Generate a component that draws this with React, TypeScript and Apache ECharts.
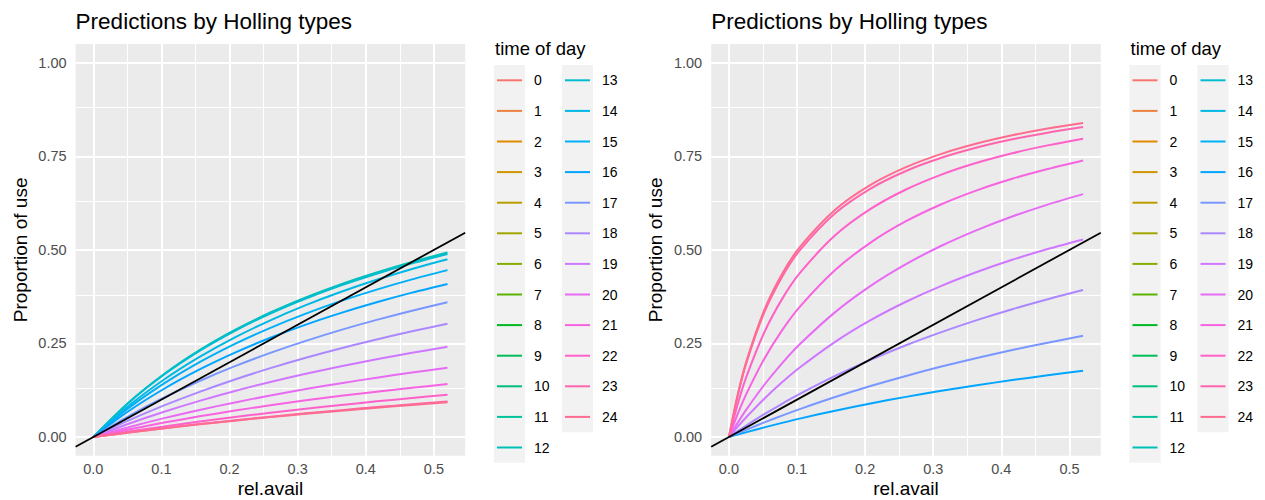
import React, { useEffect, useRef } from "react";
import * as echarts from "echarts";

// ---------- data ----------
const HOURS = Array.from({ length: 25 }, (_, i) => i);
const X_TICKS = [0, 0.1, 0.2, 0.3, 0.4, 0.5];
const X_MINOR = [0.05, 0.15, 0.25, 0.35, 0.45];
const Y_TICKS = [0, 0.25, 0.5, 0.75, 1.0];
const Y_MINOR = [0.125, 0.375, 0.625, 0.875];

// left panel: rel.avail sample points and predicted proportion of use per hour
const X_LEFT = [0, 0.052, 0.104, 0.156, 0.208, 0.26, 0.312, 0.364, 0.416, 0.468, 0.52];
const L12 = [0, 0.0925, 0.1685, 0.2322, 0.2863, 0.3328, 0.3732, 0.4087, 0.44, 0.468, 0.493];
const L13 = [0, 0.0917, 0.1671, 0.2303, 0.2839, 0.3301, 0.3701, 0.4053, 0.4364, 0.4641, 0.489];
const L14 = [0, 0.0833, 0.1537, 0.214, 0.2663, 0.3119, 0.3523, 0.3881, 0.4201, 0.4489, 0.475];
const L15 = [0, 0.0776, 0.1433, 0.1999, 0.2489, 0.2919, 0.3299, 0.3637, 0.394, 0.4213, 0.446];
const L16 = [0, 0.0696, 0.1291, 0.1806, 0.2256, 0.2653, 0.3005, 0.3319, 0.3602, 0.3858, 0.409];
const L17 = [0, 0.0562, 0.1058, 0.1499, 0.1894, 0.2249, 0.257, 0.2863, 0.313, 0.3375, 0.36];
const L18 = [0, 0.0445, 0.0846, 0.1209, 0.154, 0.1842, 0.2119, 0.2374, 0.2609, 0.2827, 0.303];
const L19 = [0, 0.0357, 0.0678, 0.0968, 0.1231, 0.1471, 0.1691, 0.1893, 0.2078, 0.2251, 0.241];
const L20 = [0, 0.0265, 0.0506, 0.0725, 0.0926, 0.1111, 0.1282, 0.144, 0.1587, 0.1723, 0.185];
const L21 = [0, 0.0203, 0.0387, 0.0554, 0.0708, 0.085, 0.0981, 0.1101, 0.1214, 0.1318, 0.1416];
const L22 = [0, 0.0148, 0.0286, 0.0415, 0.0536, 0.065, 0.0757, 0.0858, 0.0954, 0.1044, 0.113];
const L23 = [0, 0.0123, 0.0238, 0.0347, 0.0448, 0.0544, 0.0635, 0.072, 0.0801, 0.0877, 0.095];
const L24 = [0, 0.0121, 0.0233, 0.034, 0.0439, 0.0533, 0.0622, 0.0706, 0.0785, 0.0859, 0.093];

// right panel
const X_RIGHT = [0, 0.013, 0.026, 0.052, 0.078, 0.104, 0.156, 0.208, 0.26, 0.312, 0.364, 0.416, 0.468, 0.52];
const R16 = [0, 0.0067, 0.0133, 0.0259, 0.0379, 0.0493, 0.0705, 0.0898, 0.1074, 0.1236, 0.1385, 0.1522, 0.165, 0.177];
const R17 = [0, 0.0102, 0.0201, 0.0392, 0.0574, 0.0747, 0.1069, 0.1364, 0.1634, 0.1883, 0.2112, 0.2325, 0.2522, 0.2706];
const R18 = [0, 0.016, 0.0315, 0.0611, 0.089, 0.1152, 0.1633, 0.2063, 0.2452, 0.2803, 0.3123, 0.3415, 0.3683, 0.393];
const R19 = [0, 0.0279, 0.0542, 0.1026, 0.1463, 0.1858, 0.2545, 0.3123, 0.3615, 0.404, 0.441, 0.4735, 0.5023, 0.528];
const R20 = [0, 0.0387, 0.0747, 0.1398, 0.1971, 0.2479, 0.3338, 0.4039, 0.462, 0.5111, 0.553, 0.5893, 0.621, 0.649];
const R21 = [0, 0.0618, 0.1166, 0.2094, 0.2851, 0.3479, 0.4462, 0.5196, 0.5766, 0.622, 0.6591, 0.69, 0.716, 0.739];
const R22 = [0, 0.0885, 0.1627, 0.28, 0.3685, 0.4377, 0.5389, 0.6094, 0.6613, 0.7011, 0.7326, 0.7581, 0.7792, 0.797];
const R23 = [0, 0.1114, 0.2002, 0.3332, 0.4279, 0.4988, 0.5979, 0.6638, 0.7108, 0.746, 0.7734, 0.7953, 0.8132, 0.828];
const R24 = [0, 0.1138, 0.2043, 0.3395, 0.4356, 0.5073, 0.6074, 0.6738, 0.7211, 0.7566, 0.7841, 0.8061, 0.8241, 0.839];

const LEFT_CURVES: [number, number[]][] = [
  [12, L12], [13, L13], [14, L14], [15, L15], [16, L16], [17, L17], [18, L18],
  [19, L19], [20, L20], [21, L21], [22, L22], [23, L23], [24, L24],
];
const RIGHT_CURVES: [number, number[]][] = [
  [16, R16], [17, R17], [18, R18], [19, R19], [20, R20], [21, R21], [22, R22], [23, R23], [24, R24],
];

// axis ranges (identity reference line spans the x range)
const X_RANGE = [-0.026, 0.546];
const Y_RANGE = [-0.05, 1.05];

// ---------- style helpers ----------
function hcl(h: number, c: number, l: number): string {
  const WY = 100, Wu = 0.1978398, Wv = 0.4683363;
  const hr = (h * Math.PI) / 180;
  const U = c * Math.cos(hr), V = c * Math.sin(hr);
  const Y = WY * (l > 7.999592 ? Math.pow((l + 16) / 116, 3) : l / 903.3);
  const u = U / (13 * l) + Wu;
  const v = V / (13 * l) + Wv;
  const X = (9.0 * Y * u) / (4 * v);
  const Z = -X / 3 - 5 * Y + (3 * Y) / v;
  const g = (t: number) => {
    t /= WY;
    return t > 0.00304 ? 1.055 * Math.pow(t, 1 / 2.4) - 0.055 : 12.92 * t;
  };
  const cl = (t: number) => Math.round(Math.max(0, Math.min(1, t)) * 255);
  const r = cl(g(3.240479 * X - 1.53715 * Y - 0.498535 * Z));
  const gg = cl(g(-0.969256 * X + 1.875992 * Y + 0.041556 * Z));
  const b = cl(g(0.055648 * X - 0.204043 * Y + 1.057311 * Z));
  return "#" + [r, gg, b].map((x) => x.toString(16).padStart(2, "0")).join("");
}
const PALETTE = HOURS.map((i) => hcl(15 + (360 / 25) * i, 100, 65));

const FONT = "Liberation Sans, Arial, Helvetica, sans-serif";
const PANEL_LEFT = [75.6, 711.2];
const PANEL_W = 389.6;
const PANEL_TOP = 44;
const PANEL_H = 411.8;
const LEGEND_DX = [0, 635.5];

export default function App() {
  const ref = useRef<HTMLDivElement>(null);
  useEffect(() => {
    if (!ref.current) return;
    const chart = echarts.init(ref.current, undefined, { renderer: "svg" });

    const grids: any[] = [];
    const xAxes: any[] = [];
    const yAxes: any[] = [];
    const series: any[] = [];
    const graphics: any[] = [];
    const titles: any[] = [];

    [0, 1].forEach((p) => {
      grids.push({
        left: PANEL_LEFT[p], top: PANEL_TOP, width: PANEL_W, height: PANEL_H,
        show: true, backgroundColor: "#EBEBEB", borderWidth: 0, containLabel: false,
        outerBoundsMode: "none",
      });
      xAxes.push({
        type: "value", gridIndex: p, min: X_RANGE[0], max: X_RANGE[1],
        axisLine: { show: false },
        axisTick: { show: true, length: 4, lineStyle: { color: "#333333", width: 1.8 }, customValues: X_TICKS },
        axisLabel: {
          customValues: X_TICKS, color: "#4D4D4D", fontSize: 14.5, lineHeight: 15, fontFamily: FONT, margin: 6,
          formatter: (v: number) => v.toFixed(1),
        },
        splitLine: { show: false },
      });
      yAxes.push({
        type: "value", gridIndex: p, min: Y_RANGE[0], max: Y_RANGE[1],
        axisLine: { show: false },
        axisTick: { show: true, length: 4, lineStyle: { color: "#333333", width: 1.8 }, customValues: Y_TICKS },
        axisLabel: {
          customValues: Y_TICKS, color: "#4D4D4D", fontSize: 14.5, fontFamily: FONT, margin: 9,
          formatter: (v: number) => v.toFixed(2),
        },
        splitLine: { show: false },
        name: "Proportion of use", nameLocation: "middle", nameGap: 46,
        nameTextStyle: { color: "#000", fontSize: 19, fontFamily: FONT },
      });
      titles.push({
        text: "Predictions by Holling types", left: PANEL_LEFT[p], top: 10, padding: 0,
        textStyle: { color: "#000", fontSize: 22.5, fontWeight: "normal", fontFamily: FONT },
      });
      // x axis title
      graphics.push({
        type: "text", x: PANEL_LEFT[p] + PANEL_W / 2, y: 488.5,
        style: { text: "rel.avail", fill: "#000", font: `19px ${FONT}`, align: "center", verticalAlign: "middle" },
      });

      // grid lines via markLine on an invisible helper series (drawn below the curves)
      const ml: any[] = [];
      X_MINOR.forEach((v) => ml.push({ xAxis: v, lineStyle: { color: "#fff", width: 1, type: "solid" } }));
      Y_MINOR.forEach((v) => ml.push({ yAxis: v, lineStyle: { color: "#fff", width: 1, type: "solid" } }));
      X_TICKS.forEach((v) => ml.push({ xAxis: v, lineStyle: { color: "#fff", width: 2, type: "solid" } }));
      Y_TICKS.forEach((v) => ml.push({ yAxis: v, lineStyle: { color: "#fff", width: 2, type: "solid" } }));
      series.push({
        type: "line", xAxisIndex: p, yAxisIndex: p, z: 1, silent: true,
        data: X_RANGE.map((x) => [x, x]), lineStyle: { opacity: 0 }, symbol: "none",
        markLine: { z: 1, silent: true, symbol: "none", label: { show: false }, data: ml, animation: false },
      });

      const xs = p === 0 ? X_LEFT : X_RIGHT;
      const curves = p === 0 ? LEFT_CURVES : RIGHT_CURVES;
      curves.forEach(([h, ys]) => {
        series.push({
          type: "line", name: String(h), xAxisIndex: p, yAxisIndex: p, z: 10,
          data: xs.map((x, i) => [x, ys[i]]),
          symbol: "none", smooth: 0.3,
          lineStyle: { color: PALETTE[h], width: 2 },
        });
      });
      // identity line y = x
      series.push({
        type: "line", xAxisIndex: p, yAxisIndex: p, z: 11,
        data: X_RANGE.map((x) => [x, x]), symbol: "none",
        lineStyle: { color: "#000", width: 1.8 },
      });

      // legend
      const dx = LEGEND_DX[p];
      const rowH = 30.6;
      const top = 65;
      graphics.push({
        type: "text", x: 495 + dx, y: 48,
        style: { text: "time of day", fill: "#000", font: `18.5px ${FONT}`, verticalAlign: "middle" },
      });
      graphics.push({ type: "rect", x: 494 + dx, y: top, shape: { width: 31, height: 13 * rowH }, style: { fill: "#F2F2F2" } });
      graphics.push({ type: "rect", x: 562 + dx, y: top, shape: { width: 31, height: 12 * rowH }, style: { fill: "#F2F2F2" } });
      HOURS.forEach((h) => {
        const col = h < 13 ? 0 : 1;
        const row = h < 13 ? h : h - 13;
        const cy = top + rowH * (row + 0.5);
        const kx = (col === 0 ? 494 : 562) + dx;
        graphics.push({
          type: "line", shape: { x1: kx + 3, y1: cy, x2: kx + 28, y2: cy },
          style: { stroke: PALETTE[h], lineWidth: 2 },
        });
        graphics.push({
          type: "text", x: (col === 0 ? 534 : 602) + dx, y: cy,
          style: { text: String(h), fill: "#000", font: `14px ${FONT}`, verticalAlign: "middle" },
        });
      });
    });

    chart.setOption({
      animation: false,
      backgroundColor: "#fff",
      title: titles,
      grid: grids,
      xAxis: xAxes,
      yAxis: yAxes,
      series,
      graphic: graphics,
    });
    return () => chart.dispose();
  }, []);
  return (
    <div
      ref={ref}
      style={{ position: "fixed", left: 0, top: 0, width: 1265, height: 500, background: "#fff" }}
    />
  );
}
